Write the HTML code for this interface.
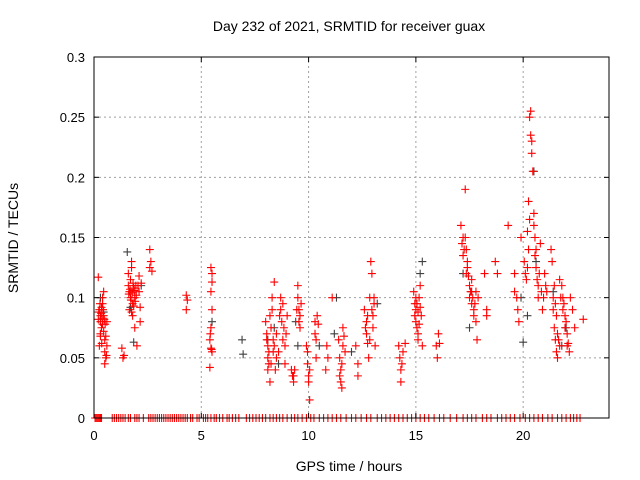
<!DOCTYPE html>
<html><head><meta charset="utf-8"><style>
body{margin:0;background:#fff;}
svg{display:block;font-family:"Liberation Sans",sans-serif;}
</style></head><body>
<svg id="chart" width="640" height="480">
<text x="349" y="31" text-anchor="middle" font-size="14">Day 232 of 2021, SRMTID for receiver guax</text>
<text x="349" y="471" text-anchor="middle" font-size="14">GPS time / hours</text>
<text transform="translate(18,238) rotate(-90)" text-anchor="middle" font-size="14">SRMTID / TECUs</text>
<g id="grid"></g><g id="marks"></g><g id="axes"></g>
</svg>
<script>
const xTicks=[0,5,10,15,20];
const yTicks=[0,0.05,0.1,0.15,0.2,0.25,0.3];
const yTickLabels=["0","0.05","0.1","0.15","0.2","0.25","0.3"];
const redPoints=[[0.2,0.117],[0.25,0.09],[0.3,0.085],[0.3,0.08],[0.35,0.075],[0.3,0.07],[0.4,0.1],[0.4,0.095],[0.45,0.105],[0.45,0.085],[0.5,0.065],[0.5,0.055],[0.55,0.05],[0.5,0.045],[0.6,0.08],[0.6,0.06],[0.25,0.06],[0.35,0.092],[0.4,0.078],[0.45,0.072],
[0.2,0.082],[0.22,0.088],[0.28,0.095],[0.33,0.087],[0.38,0.083],[0.42,0.09],[0.48,0.082],[0.52,0.078],[0.55,0.068],[0.3,0.068],[0.36,0.062],[0.58,0.052],
[1.3,0.058],[1.35,0.05],[1.4,0.052],[1.6,0.12],[1.6,0.11],[1.65,0.105],[1.7,0.115],[1.7,0.1],[1.75,0.125],[1.75,0.13],[1.8,0.095],[1.8,0.085],[1.85,0.108],[1.9,0.1],[1.9,0.075],[1.95,0.11],[2.0,0.06],[1.65,0.09],[2.1,0.118],[2.1,0.105],[2.15,0.092],[2.15,0.08],[2.6,0.14],[2.65,0.13],[2.6,0.125],[2.7,0.122],
[1.62,0.103],[1.68,0.107],[1.72,0.098],[1.78,0.104],[1.82,0.112],[1.88,0.106],[1.92,0.097],[1.97,0.102],[1.85,0.093],[1.75,0.088],[2.05,0.11],[2.2,0.112],
[4.3,0.102],[4.35,0.098],[4.3,0.09],[5.45,0.125],[5.5,0.12],[5.5,0.113],[5.45,0.105],[5.5,0.09],[5.45,0.075],[5.4,0.065],[5.45,0.058],[5.5,0.055],[5.4,0.042],[5.42,0.07],[5.48,0.057],
[8.0,0.08],[8.05,0.07],[8.1,0.06],[8.1,0.05],[8.15,0.045],[8.1,0.04],[8.2,0.03],[8.2,0.085],[8.3,0.09],[8.3,0.1],[8.35,0.055],[8.4,0.113],[8.4,0.06],[8.5,0.05],[8.5,0.07],[8.7,0.09],[8.7,0.1],[8.75,0.08],[8.8,0.065],[8.85,0.075],[8.9,0.06],[8.9,0.045],[9.0,0.085],[9.2,0.04],[9.3,0.035],[9.3,0.03],[9.5,0.11],[9.5,0.1],[9.55,0.09],[9.6,0.085],[9.6,0.075],[9.9,0.06],[9.95,0.045],[10.0,0.035],[10.0,0.03],[10.05,0.015],[10.3,0.08],[10.3,0.07],[10.4,0.085],[10.35,0.05],[10.8,0.04],[10.85,0.06],[10.9,0.05],[11.1,0.1],[11.4,0.065],[11.45,0.05],[11.5,0.04],[11.5,0.03],[11.55,0.025],[11.6,0.075],[11.6,0.06],[11.7,0.055],[12.2,0.06],[12.3,0.045],[12.3,0.035],[12.6,0.09],[12.7,0.08],[12.7,0.07],[12.75,0.062],[12.8,0.05],[12.85,0.1],[12.9,0.13],[12.95,0.12],[13.0,0.085],[13.0,0.075],[13.1,0.06],[14.2,0.06],[14.25,0.05],[14.3,0.04],[14.3,0.03],[14.35,0.045],[14.4,0.055],[14.5,0.062],
[8.05,0.065],[8.15,0.055],[8.25,0.075],[8.35,0.065],[8.45,0.04],[8.25,0.045],[8.6,0.055],[8.65,0.085],[8.8,0.095],[8.95,0.07],[9.25,0.035],[9.35,0.04],[9.45,0.09],[9.55,0.08],[9.65,0.095],[9.95,0.055],[10.05,0.04],[10.35,0.065],[10.45,0.078],[11.55,0.045],[11.65,0.068],[11.45,0.035],[12.65,0.075],[12.75,0.085],[12.85,0.065],[12.95,0.09],[13.05,0.095],[13.05,0.1],
[14.9,0.105],[14.95,0.095],[15.0,0.09],[15.0,0.08],[15.05,0.075],[15.1,0.07],[15.1,0.065],[15.15,0.1],[15.2,0.11],[15.25,0.085],[15.3,0.06],[15.95,0.06],[16.0,0.05],[16.05,0.07],[16.1,0.062],
[14.95,0.085],[15.05,0.095],[15.1,0.088],[15.15,0.078],[15.2,0.092],[15.0,0.1],
[17.1,0.16],[17.15,0.145],[17.2,0.135],[17.25,0.14],[17.3,0.19],[17.3,0.15],[17.35,0.12],[17.4,0.125],[17.5,0.11],[17.5,0.1],[17.6,0.095],[17.7,0.09],[17.7,0.085],[17.8,0.08],[17.85,0.065],[17.9,0.1],[18.2,0.12],[18.3,0.09],[18.3,0.085],[18.7,0.13],[18.8,0.12],[19.3,0.16],[19.6,0.12],[19.6,0.105],[19.7,0.1],[19.75,0.09],[19.8,0.08],[19.9,0.15],[20.05,0.13],[20.1,0.12],[20.2,0.155],[20.25,0.18],[20.3,0.25],[20.35,0.255],[20.35,0.235],[20.4,0.23],[20.4,0.22],[20.45,0.205],[20.5,0.17],[20.5,0.16],[20.55,0.15],[20.6,0.14],[20.6,0.125],[20.7,0.11],[20.7,0.1],[20.8,0.145],[20.9,0.09],[21.0,0.12],[21.1,0.105],[21.3,0.14],[21.35,0.13],[21.4,0.09],[21.45,0.075],[21.5,0.065],[21.55,0.055],[21.6,0.05],[21.7,0.115],[21.8,0.11],[21.85,0.1],[21.9,0.095],[21.95,0.085],[22.0,0.08],[22.05,0.07],[22.1,0.062],[22.2,0.1],[22.3,0.09],[22.4,0.075],[22.8,0.082],
[17.2,0.15],[17.35,0.14],[17.4,0.13],[17.45,0.118],[17.55,0.105],[17.6,0.115],[17.65,0.1],[17.75,0.095],[17.8,0.105],[20.15,0.115],[20.2,0.125],[20.25,0.14],[20.3,0.165],[20.55,0.135],[20.65,0.115],[20.75,0.12],[20.85,0.105],[20.95,0.1],[21.05,0.11],[21.5,0.095],[21.55,0.085],[21.6,0.07],[21.65,0.065],[21.7,0.06],[21.75,0.1],[21.85,0.09],[21.95,0.075],[22.05,0.06],[22.15,0.055],[21.4,0.1],[21.45,0.11]];
const grayPoints=[[0.3,0.1],[0.45,0.088],[1.55,0.138],[1.7,0.092],[1.85,0.063],[2.2,0.11],[5.5,0.08],[6.9,0.065],[6.95,0.053],[8.1,0.065],[8.4,0.075],[8.6,0.045],[9.4,0.08],[9.5,0.06],[10.5,0.06],[11.2,0.07],[11.3,0.1],[12.0,0.055],[13.2,0.095],[15.3,0.13],[15.2,0.12],[17.2,0.12],[17.6,0.105],[17.5,0.075],[19.9,0.1],[20.0,0.063],[20.2,0.085],[20.5,0.205],[20.6,0.13],[21.4,0.105],[21.8,0.06],[22.0,0.075]];
const zeroHours=[0.05,0.1,0.15,0.2,0.25,0.3,0.35,0.85,0.95,1.05,1.15,1.25,1.35,1.45,1.6,1.7,1.9,2.0,2.1,2.3,2.55,2.65,2.75,2.85,2.95,3.05,3.15,3.25,3.35,3.45,3.55,3.65,3.75,3.85,3.95,4.05,4.15,4.25,4.35,4.5,4.6,4.8,4.9,5.1,5.2,5.3,5.45,5.6,5.7,5.85,6.0,6.2,6.3,6.45,6.6,6.75,7.1,7.25,7.4,7.55,7.7,7.85,8.0,8.2,8.35,8.5,8.65,8.8,9.0,9.2,9.35,9.5,9.7,9.9,10.1,10.25,10.5,10.7,10.9,11.1,11.3,11.5,11.75,12.0,12.2,12.45,12.7,12.9,13.2,13.4,13.6,13.8,14.0,14.2,14.4,14.6,14.8,15.0,15.2,15.4,15.6,15.85,16.1,16.3,16.6,16.9,17.2,17.4,17.6,17.8,18.1,18.3,18.5,18.8,19.0,19.2,19.4,19.6,19.85,20.1,20.3,20.5,20.7,20.9,21.15,21.35,21.6,21.8,22.0,22.2,22.35,22.5,22.65];
const X0=94,X1=609,Y0=418,Y1=57,XMAX=24,YMAX=0.3;
const sx=h=>X0+(X1-X0)*h/XMAX, sy=v=>Y0-(Y0-Y1)*v/YMAX;
const NS="http://www.w3.org/2000/svg";
function mk(t,a,p){const e=document.createElementNS(NS,t);for(const k in a)e.setAttribute(k,a[k]);p.appendChild(e);return e;}
const grid=document.getElementById('grid'),marks=document.getElementById('marks'),axes=document.getElementById('axes');
xTicks.forEach((t,i)=>{const x=sx(t);
 if(t>0){const l=mk('line',{x1:x,y1:Y0,x2:x,y2:Y1,stroke:'#a0a0a0','stroke-dasharray':'2,3'},grid);
 
 }
 mk('line',{x1:x,y1:Y0,x2:x,y2:Y0-5,stroke:'#000'},axes);mk('line',{x1:x,y1:Y1,x2:x,y2:Y1+5,stroke:'#000'},axes);
 const tx=mk('text',{x:x,y:Y0+22,'text-anchor':'middle','font-size':'13'},axes);tx.textContent=t;
 
 });
yTicks.forEach((t,i)=>{const y=sy(t);
 if(t>0&&t<YMAX){const l=mk('line',{x1:X0,y1:y,x2:X1,y2:y,stroke:'#a0a0a0','stroke-dasharray':'2,3'},grid);
 
 }
 mk('line',{x1:X0,y1:y,x2:X0+5,y2:y,stroke:'#000'},axes);mk('line',{x1:X1,y1:y,x2:X1-5,y2:y,stroke:'#000'},axes);
 const tx=mk('text',{x:X0-9,y:y+5,'text-anchor':'end','font-size':'13'},axes);tx.textContent=yTickLabels[i];
 
 });
const fr=mk('rect',{x:X0,y:Y1,width:X1-X0,height:Y0-Y1,fill:'none',stroke:'#000'},axes);


function plus(h,v,c,name){const x=sx(h),y=sy(v);
 const p=mk('path',{d:`M${x-4},${y}h8M${x},${y-4}v8`,stroke:c,'stroke-width':1.1},marks);
 
 }
grayPoints.forEach(d=>plus(d[0],d[1],'#404040','gray-point'));
redPoints.forEach(d=>plus(d[0],d[1],'#ff0000','red-point'));
zeroHours.forEach(h=>plus(h,0,'#ff0000','zero-point'));
</script>
</body></html>
